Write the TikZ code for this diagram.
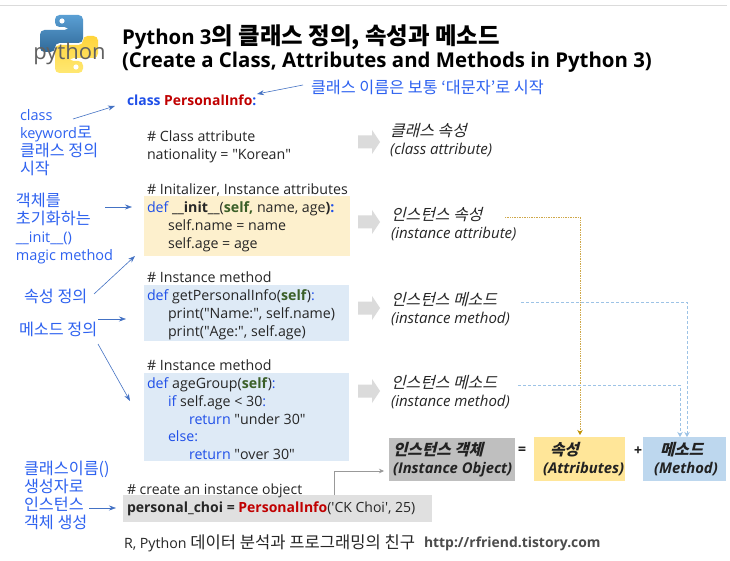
\documentclass[tikz,border=0pt]{standalone}
\usepackage{fontspec}
\setmainfont{Open Sans}
\newfontfamily\qfont{Open Sans}
\newfontfamily\krfont[Scale=1.12,ItalicFont={Noto Sans CJK KR},ItalicFeatures={FakeSlant=0.25},BoldFont={Noto Sans CJK KR/B},BoldItalicFont={Noto Sans CJK KR/B},BoldItalicFeatures={FakeSlant=0.25}]{Noto Sans CJK KR}
\newcommand{\kr}[1]{{\krfont #1}}
\newcommand{\krsized}[2]{{\fontsize{#1}{17.5}\selectfont\krfont #2}}
\usetikzlibrary{arrows.meta}
\definecolor{kwblue}{HTML}{1F4FE8}
\definecolor{notecol}{HTML}{2E62F0}
\definecolor{redcol}{HTML}{C00000}
\definecolor{selfcol}{HTML}{3B5F28}
\definecolor{ink}{HTML}{262626}
\definecolor{yellowbox}{HTML}{FDF0CD}
\definecolor{bluebox}{HTML}{DEEAF6}
\definecolor{grayband}{HTML}{E0E0E0}
\definecolor{arrowblue}{HTML}{4472C4}
\definecolor{dotblue}{HTML}{9DC3E6}
\definecolor{dotgold}{HTML}{CFA84A}
\definecolor{headgold}{HTML}{BF9000}
\definecolor{logoblueA}{HTML}{5A9FD4}
\definecolor{logoblueB}{HTML}{306998}
\definecolor{logoyelA}{HTML}{FFE873}
\definecolor{logoyelB}{HTML}{FFD43B}
\definecolor{sumyel}{HTML}{FFE699}
\definecolor{sumblu}{HTML}{BDD7EE}
\newcommand{\kw}[1]{\textcolor{kwblue}{#1}}
\newcommand{\slf}[1]{\textcolor{selfcol}{\textbf{#1}}}
\newcommand{\ind}{\hspace*{21pt}}
\newcommand{\indd}{\hspace*{42pt}}
\newcommand{\dq}{{\qfont\symbol{34}}}
\newcommand{\sq}{{\qfont\symbol{39}}}
\tikzset{
  txt/.style={anchor=north west,inner sep=0pt,outer sep=0pt,align=left,text=ink},
  code/.style={txt,font=\fontsize{14.2}{17.8}\selectfont},
  note/.style={txt,text=notecol,font=\fontsize{14.5}{18}\selectfont},
  ital/.style={txt,font=\fontsize{15}{17.5}\selectfont\itshape,text=ink},
  boxfill/.style={inner sep=0pt,outer sep=0pt},
  callout/.style={draw=arrowblue,line width=0.6pt,-{Stealth[length=7pt,width=5pt]}},
  blockarrow/.style={fill=black!14,draw=none},
  golddot/.style={draw=dotgold,line width=0.7pt,densely dotted,-{Stealth[length=5pt,width=5.5pt,color=headgold]}},
  bluedash/.style={draw=dotblue,line width=0.7pt,densely dashed,-{Stealth[length=5pt,width=5.5pt,color=dotblue,fill=dotblue]}},
  summary/.style={anchor=north west,inner sep=0pt,outer sep=0pt,font=\fontsize{14.8}{18.5}\selectfont\bfseries\itshape,text=ink!90!black,align=left},
  snake/.style={rounded corners=4.5pt},
}
\begin{document}
\begin{tikzpicture}[x=1pt,y=-1pt]
\useasboundingbox (0,0) rectangle (730,561);
\fill[white] (0,0) rectangle (730,561);
\draw[black!14,line width=0.8pt] (0,5) -- (727,5);

% logo
\newcommand{\snakepath}{(40,44) -- (40,30) -- (69,30) -- (69,27) -- (55,27) -- (55,15) -- (83,15) -- (83,43) -- (55,43) -- (55,52) -- (40,52) -- cycle}
\shade[snake,top color=logoblueA,bottom color=logoblueB] \snakepath;
\fill[white] (62,21) circle (2.6);
\begin{scope}[shift={(138,88)},xscale=-1,yscale=-1]
\shade[snake,bottom color=logoyelA,top color=logoyelB] \snakepath;
\fill[white] (62,21) circle (2.6);
\end{scope}
\node[anchor=center,inner sep=0pt,text=black!62,font=\fontsize{22}{22}\selectfont] (logo) at (69.5,54) {python};

% title
\node[txt,text=black,font=\fontsize{20.4}{26}\selectfont\bfseries] (title) at (122,25) {Python 3{\fontsize{20.9}{26}\selectfont\krfont 의 클래스 정의, 속성과 메소드}\\[-3pt](Create a Class, Attributes and Methods in Python 3)};

% filled code bands
\fill[yellowbox] (144,196) rectangle (350,256);
\fill[bluebox] (144,285) rectangle (349,341);
\fill[bluebox] (144,373) rectangle (349,461);
\node[boxfill,fill=grayband,minimum width=309pt,minimum height=27pt,anchor=north west] (band) at (123,495) {};

% code
\node[code,font=\fontsize{13.9}{18}\selectfont\bfseries] (cls) at (127,95) {\kw{class} \textcolor{redcol}{PersonalInfo}\kw{:}};
\node[code] (c1) at (147,131) {\# Class attribute\\nationality = \dq Korean\dq};
\node[code] (c2) at (147,184) {\# Initalizer, Instance attributes\\\kw{def} \textbf{\_\_init\_\_}(\slf{self,} name, age\textbf{)}\kw{\textbf{:}}\\\ind self.name = name\\\ind self.age = age};
\node[code] (c3) at (147,272) {\# Instance method\\\kw{def} getPersonalInfo(\slf{self})\kw{:}\\\ind print(\dq Name:\dq, self.name)\\\ind print(\dq Age:\dq, self.age)};
\node[code] (c4) at (147,360) {\# Instance method\\\kw{def} ageGroup(\slf{self})\kw{:}\\\ind \kw{if} self.age < 30\kw{:}\\\indd \kw{return} \dq under 30\dq\\\ind \kw{else:}\\\indd \kw{return} \dq over 30\dq};
\node[code,font=\fontsize{14}{17.8}\selectfont] (c5) at (127,484) {\# create an instance object\\\textbf{personal\_choi = }\textcolor{redcol}{\textbf{PersonalInfo}}(\sq CK Choi\sq, 25)};
\node[code] (foot) at (124,535) {R, Python \krsized{14.8}{데이터 분석과 프로그래밍의 친구}};
\node[code,font=\fontsize{13.9}{18}\selectfont\bfseries,text=black!70] (url) at (424,537) {http://rfriend.tistory.com};

% notes
\node[note] (n0) at (311,80) {\kr{클래스 이름은 보통 ‘대문자’로 시작}};
\node[note] (n1) at (20,109.5) {class\\keyword\kr{로}\\\kr{클래스 정의}\\\kr{시작}};
\node[note] (n2) at (16,193) {\kr{객체를}\\\kr{초기화하는}\\\_\_init\_\_()\\magic method};
\node[note] (n3) at (24,289) {\kr{속성 정의}};
\node[note] (n4) at (19,322) {\kr{메소드 정의}};
\node[note] (n5) at (24,461) {\kr{클래스이름()}\\\kr{생성자로}\\\kr{인스턴스}\\\kr{객체 생성}};

% callouts
\coordinate (t0) at (257,94); \coordinate (s0) at (303,85);
\coordinate (t1) at (115,106); \coordinate (s1) at (73,119);
\coordinate (t2) at (132,207); \coordinate (s2) at (105,207);
\coordinate (t3) at (135,256); \coordinate (s3) at (94,294);
\coordinate (t4a) at (126,319); \coordinate (s4a) at (98,319);
\coordinate (t4b) at (130,401); \coordinate (s4b) at (98,344);
\coordinate (t5) at (116,508); \coordinate (s5) at (89,508);
\draw[callout] (s0) -- (t0);
\draw[callout] (s1) -- (t1);
\draw[callout] (s2) -- (t2);
\draw[callout] (s3) -- (t3);
\draw[callout] (s4a) -- (t4a);
\draw[callout] (s4b) -- (t4b);
\draw[callout] (s5) -- (t5);

% block arrows
\newcommand{\blockarrow}[1]{\fill[blockarrow] (358,#1-6.5) -- (372,#1-6.5) -- (372,#1-12) -- (380,#1) -- (372,#1+12) -- (372,#1+6.5) -- (358,#1+6.5) -- cycle;}
\blockarrow{142}
\blockarrow{222}
\blockarrow{308}
\blockarrow{391}

% right labels
\node[ital] (r1) at (390,123.5) {\krsized{14.2}{클래스 속성}\\(class attribute)};
\node[ital] (r2) at (391,207.5) {\krsized{14.2}{인스턴스 속성}\\(instance attribute)};
\node[ital] (r3) at (391,292.5) {\krsized{14.2}{인스턴스 메소드}\\(instance method)};
\node[ital] (r4) at (391,375.5) {\krsized{14.2}{인스턴스 메소드}\\(instance method)};

% summary boxes
\fill[black!25] (389,438) rectangle (515,481);
\fill[sumyel] (534,437) rectangle (625,481);
\fill[sumblu] (643,437) rectangle (726,481);
\node[summary] (o1) at (393,442) {\krsized{14}{인스턴스 객체}\\(Instance Object)};
\node[summary] (o2) at (543,442) {\hspace*{7pt}\krsized{14}{속성}\\(Attributes)};
\node[summary] (o3) at (654,442) {\hspace*{6pt}\krsized{14}{메소드}\\(Method)};
\node[summary,anchor=center] (eq) at (522,451) {=};
\node[summary,anchor=center] (pl) at (638,451) {+};

% links
\coordinate (ga) at (505,217); \coordinate (gb) at (580,217);
\coordinate (ma) at (521,302); \coordinate (mb) at (687,302);
\coordinate (na) at (518,385); \coordinate (nb) at (680,385);
\coordinate (oa) at (334,495); \coordinate (ob) at (334,471); \coordinate (oc) at (384,471);
\draw[golddot] (ga) -- (gb) -- (580,435);
\draw[bluedash] (ma) -- (mb) -- (687,437);
\draw[bluedash] (na) -- (nb) -- (680,437);
\draw[draw=black!40,line width=0.6pt,-{Stealth[length=5pt,width=4.5pt]}] (oa) -- (ob) -- (oc);
\end{tikzpicture}
\end{document}
